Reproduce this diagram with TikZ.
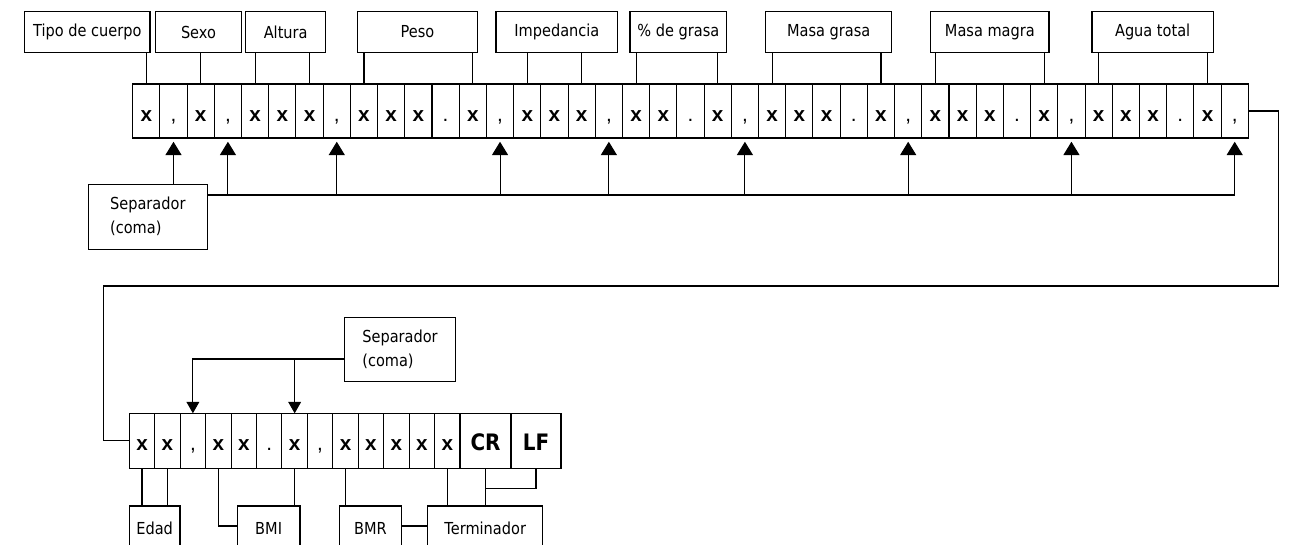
\documentclass[tikz,border=0pt]{standalone}
\usepackage{fontspec}
\setmainfont{DejaVu Sans}[FakeStretch=0.88]
\newfontfamily\cellfont{Liberation Sans}
\usetikzlibrary{arrows.meta}
\newcommand\cellchar[1]{\if#1x\textbf{x}\else\if#1c{,}\else\if#1p{.}\else\textbf{#1}\fi\fi\fi}
\newcommand\boxat[7]{\node[#6, minimum width={(#4-#2)*0.75pt}, minimum height={(#5-#3)*0.75pt}] (#1) at ({(#2+#4)/2},{(#3+#5)/2}) {#7};}
\tikzset{
  lbl/.style={draw, inner sep=0pt, outer sep=0pt, font=\fontsize{12.4}{14}\selectfont},
  sepbox/.style={draw, inner sep=0pt, outer sep=0pt, align=left, font=\fontsize{12.4}{18}\selectfont},
  cell/.style={draw, inner sep=0pt, outer sep=0pt, text height=15pt, text depth=0pt, font=\cellfont\fontsize{15.5}{17}\selectfont},
  bigcell/.style={draw, inner sep=0pt, outer sep=0pt, text height=15pt, text depth=0pt, font=\fontsize{17}{19}\selectfont\bfseries},
  arrup/.style={-{Triangle[width=12pt,length=10pt]}, shorten >=2.8pt},
  arrdn/.style={-{Triangle[width=9.5pt,length=8.5pt]}},
}
\begin{document}
\begin{tikzpicture}[x=0.75pt,y=-0.75pt,line width=0.8pt]
\useasboundingbox (0,0) rectangle (1290,544);
\clip (0,0) rectangle (1290,544);
% top row cells
\foreach \t [count=\i] in {x,c,x,c,x,x,x,c,x,x,x,p,x,c,x,x,x,c,x,x,p,x,c,x,x,x,p,x,c,x,x,x,p,x,c,x,x,x,p,x,c} {
  \pgfmathsetmacro\xa{132.7+(\i-1)*27.21}
  \pgfmathsetmacro\xb{\xa+27.21}
  \boxat{t\i}{\xa}{84}{\xb}{138}{cell}{\cellchar{\t}}
}
% label boxes (top)
\boxat{tipo}{24.7}{11.7}{150}{52.3}{lbl}{Tipo de cuerpo}
\boxat{sexo}{155.3}{11.7}{241.7}{52.3}{lbl}{Sexo}
\boxat{altura}{245.7}{11.7}{325.7}{52.3}{lbl}{Altura}
\boxat{peso}{357.7}{11.7}{477.3}{52.3}{lbl}{Peso}
\boxat{imped}{496}{11.7}{617.7}{52.3}{lbl}{Impedancia}
\boxat{grasa}{630}{11.7}{726.7}{52.3}{lbl}{\% de grasa}
\boxat{mgrasa}{765.7}{11.7}{891.7}{52.3}{lbl}{Masa grasa}
\boxat{mmagra}{930.7}{11.7}{1049}{52.3}{lbl}{Masa magra}
\boxat{agua}{1092}{11.7}{1213.3}{52.3}{lbl}{Agua total}
% connectors label -> cells
\draw (tipo.south -| t1) -- (t1.north);
\draw (sexo.south -| t3) -- (t3.north);
\draw (altura.south -| t5) -- (t5.north);
\draw (altura.south -| t7) -- (t7.north);
\draw (peso.south -| t9) -- (t9.north);
\draw (peso.south -| t13) -- (t13.north);
\draw (imped.south -| t15) -- (t15.north);
\draw (imped.south -| t17) -- (t17.north);
\draw (grasa.south -| t19) -- (t19.north);
\draw (grasa.south -| t22) -- (t22.north);
\draw (mgrasa.south -| t24) -- (t24.north);
\draw (mgrasa.south -| t28) -- (t28.north);
\draw (mmagra.south -| t30) -- (t30.north);
\draw (mmagra.south -| t34) -- (t34.north);
\draw (agua.south -| t36) -- (t36.north);
\draw (agua.south -| t40) -- (t40.north);
% separator 1
\boxat{sep1}{88.3}{184.3}{207.3}{249.3}{sepbox}{Separador\\(coma)}
\coordinate (h) at (0,195);
\draw (sep1.east |- h) -- (h -| t41);
\draw[arrup] (sep1.north -| t2) -- (t2.south);
\foreach \k in {4,8,14,18,23,29,35,41} {
  \draw[arrup] (h -| t\k) -- (t\k.south);
}
% route to second row
\coordinate (r1) at (1278.7,286);
\coordinate (r2) at (103.3,286);
% bottom row cells
\foreach \t [count=\i] in {x,x,c,x,x,p,x,c,x,x,x,x,x} {
  \pgfmathsetmacro\xa{129.3+(\i-1)*25.44}
  \pgfmathsetmacro\xb{\xa+25.44}
  \boxat{b\i}{\xa}{413.3}{\xb}{468.3}{cell}{\cellchar{\t}}
}
\boxat{b14}{460}{413.3}{511}{468.3}{bigcell}{CR}
\boxat{b15}{511}{413.3}{561}{468.3}{bigcell}{LF}
\draw (t41.east) -| (r1) -- (r2) |- (b1.west);
% separator 2
\boxat{sep2}{344.3}{317.3}{455.7}{381.7}{sepbox}{Separador\\(coma)}
\coordinate (s2) at (0,359);
\draw[arrdn] (sep2.west |- s2) -| (b3.north);
\draw[arrdn] (b7 |- s2) -- (b7.north);
% bottom labels
\boxat{edad}{129.3}{506}{180}{550}{lbl}{Edad}
\boxat{bmi}{237.3}{506}{300}{550}{lbl}{BMI}
\boxat{bmr}{339.3}{506}{401.7}{550}{lbl}{BMR}
\boxat{term}{427.7}{506}{542.7}{550}{lbl}{Terminador}
\draw (b1.south) -- (b1.south |- edad.north);
\draw (b2.south) -- (b2.south |- edad.north);
\coordinate (m) at (0,526);
\draw (b4.south) |- (bmi.west |- m);
\draw (b7.south) -- (b7.south |- bmi.north);
\draw (b9.south) -- (b9.south |- bmr.north);
\draw (bmr.east |- m) -- (term.west |- m);
\draw (b13.south) -- (b13.south |- term.north);
\draw (b14.south) -- (b14.south |- term.north);
\coordinate (j) at (0,488.3);
\draw (b15.south) -- (b15.south |- j) -- (b14.south |- j);
\end{tikzpicture}
\end{document}
